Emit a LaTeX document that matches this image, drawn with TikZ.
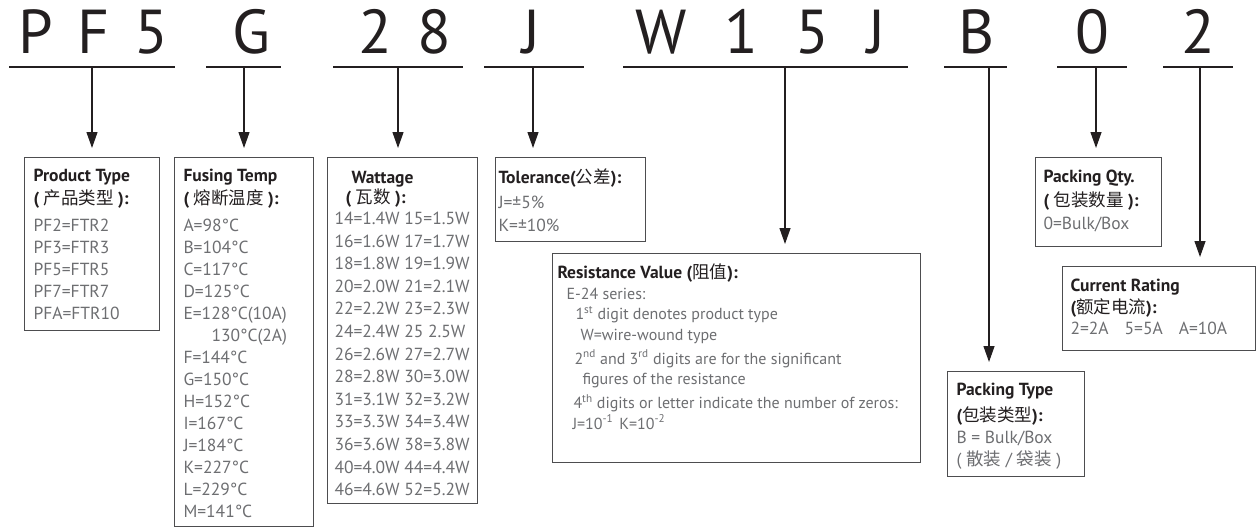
\documentclass[tikz,border=0pt]{standalone}
\usepackage{fontspec}
\setmainfont{PT Sans}
\newfontfamily\cjk{Noto Sans CJK SC}
\usetikzlibrary{arrows.meta}
\definecolor{ink}{HTML}{231F20}
\definecolor{soft}{HTML}{6D6E71}
\definecolor{frame}{HTML}{4D4D4F}
\newcommand{\zh}[1]{{\cjk\mdseries #1}}
% text block of a legend box: width, height, line skip, left pad, lines
\newcommand{\legend}[5]{\parbox[c][#2pt][t]{#1pt}{\raggedright\parindent=0pt
  \fontsize{17.5}{#3pt}\selectfont\lineskiplimit=-30pt\leftskip=#4pt\color{ink}#5}}
\tikzset{
  code letter/.style={anchor=base, text=ink, font=\fontsize{62}{62}\selectfont, inner sep=0pt},
  bar/.style={draw=ink, line width=2pt},
  pointer/.style={draw=ink, line width=1.2pt, -{Triangle[length=16pt,width=11pt]}, shorten >=9pt},
  panel/.style={draw=frame, line width=1pt, inner sep=0pt, anchor=north west}
}
\begin{document}
\begin{tikzpicture}[x=1pt, y=-1pt]
  \useasboundingbox (0,0) rectangle (1257,527);
  % Part number
  \foreach \ch/\px [count=\i] in {P/36, F/94, 5/151, G/251, 2/375, 8/434, J/532,
      W/661, 1/741, 5/812, J/877, B/977, 0/1092, 2/1198}
    \node[code letter] (c\i) at (\px,53) {\ch};
  % Underlines
  \foreach \a/\b in {9/175, 206/281, 333/463, 484/584, 623/908, 944/1007, 1057/1127, 1163/1233}
    \draw[bar] (\a,67) -- (\b,67);
  \coordinate (uType) at (92,67);
  \coordinate (uTemp) at (244,67);
  \coordinate (uWatt) at (398,67);
  \coordinate (uTol) at (533,67);
  \coordinate (uRes) at (785,67);
  \coordinate (uPack) at (989,67);
  \coordinate (uQty) at (1096,67);
  \coordinate (uCur) at (1200,67);
  % Legend boxes
  \node[panel] (type) at (24,157) {\legend{135}{173}{22}{9}{\rule{0pt}{24pt}\textbf{Product Type}\\[1pt]
    \textbf{( \zh{产品类型} ):}\\[5pt]
    \color{soft}PF2=FTR2\\PF3=FTR3\\PF5=FTR5\\PF7=FTR7\\PFA=FTR10}};
  \node[panel] (temp) at (174,157) {\legend{139}{369}{22}{9}{\rule{0pt}{24pt}\textbf{Fusing Temp}\\[1pt]
    \textbf{( \zh{熔断温度} ):}\\[5pt]
    \color{soft}A=98°C\\B=104°C\\C=117°C\\D=125°C\\E=128°C(10A)\\\hspace*{28pt}130°C(2A)\\
    F=144°C\\G=150°C\\H=152°C\\I=167°C\\J=184°C\\K=227°C\\L=229°C\\M=141°C}};
  \node[panel] (watt) at (327,157) {\legend{150}{346}{22.6}{7}{\rule{0pt}{26pt}\hspace*{17pt}\textbf{Wattage}\\[-2.6pt]
    \hspace*{11pt}\textbf{( \zh{瓦数} ):}\\[-1.6pt]
    \color{soft}14=1.4W 15=1.5W\\16=1.6W 17=1.7W\\18=1.8W 19=1.9W\\20=2.0W 21=2.1W\\
    22=2.2W 23=2.3W\\24=2.4W 25 2.5W\\26=2.6W 27=2.7W\\28=2.8W 30=3.0W\\31=3.1W 32=3.2W\\
    33=3.3W 34=3.4W\\36=3.6W 38=3.8W\\40=4.0W 44=4.4W\\46=4.6W 52=5.2W}};
  \node[panel] (tol) at (495,157) {\legend{150}{84}{23}{3}{\rule{0pt}{26pt}\textbf{Tolerance(\zh{公差}):}\\[2pt]
    \color{soft}J=±5\%\\K=±10\%}};
  \node[panel] (res) at (552,253) {\legend{368}{209}{20.5}{5}{\rule{0pt}{25pt}\textbf{Resistance Value (\zh{阻值}):}\\
    \color{soft}\fontsize{16}{20.5}\selectfont\hspace*{9pt}E-24 series:\\
    \hspace*{18pt}1\textsuperscript{st} digit denotes product type\\
    \hspace*{23pt}W=wire-wound type\\[3.5pt]
    \hspace*{17pt}2\textsuperscript{nd} and 3\textsuperscript{rd} digits are for the significant\\
    \hspace*{25pt}figures of the resistance\\[3.5pt]
    \hspace*{16pt}4\textsuperscript{th} digits or letter indicate the number of zeros:\\
    \hspace*{15pt}J=10\textsuperscript{-1}\hspace{6pt}K=10\textsuperscript{-2}}};
  \node[panel] (qty) at (1035,157) {\legend{126}{89}{23}{8}{\rule{0pt}{25pt}\textbf{Packing Qty.}\\[1pt]
    \textbf{( \zh{包装数量} ):}\\
    \color{soft}0=Bulk/Box}};
  \node[panel] (cur) at (1062,266) {\legend{193}{84}{21.5}{8}{\rule{0pt}{25pt}\textbf{Current Rating}\\
    \textbf{(\zh{额定电流}):}\\
    \color{soft}2=2A\hspace{16pt}5=5A\hspace{16pt}A=10A}};
  \node[panel] (pack) at (947,371) {\legend{137}{105}{22}{9}{\rule{0pt}{24pt}\textbf{Packing Type}\\[4pt]
    \textbf{(\zh{包装类型}):}\\
    \color{soft}B = Bulk/Box\\( \zh{散装} / \zh{袋装} )}};
  % Pointers
  \draw[pointer] (uType) -- (uType |- type.north);
  \draw[pointer] (uTemp) -- (uTemp |- temp.north);
  \draw[pointer] (uWatt) -- (uWatt |- watt.north);
  \draw[pointer] (uTol) -- (uTol |- tol.north);
  \draw[pointer] (uRes) -- (uRes |- res.north);
  \draw[pointer] (uPack) -- (uPack |- pack.north);
  \draw[pointer] (uQty) -- (uQty |- qty.north);
  \draw[pointer] (uCur) -- (uCur |- cur.north);
\end{tikzpicture}
\end{document}
